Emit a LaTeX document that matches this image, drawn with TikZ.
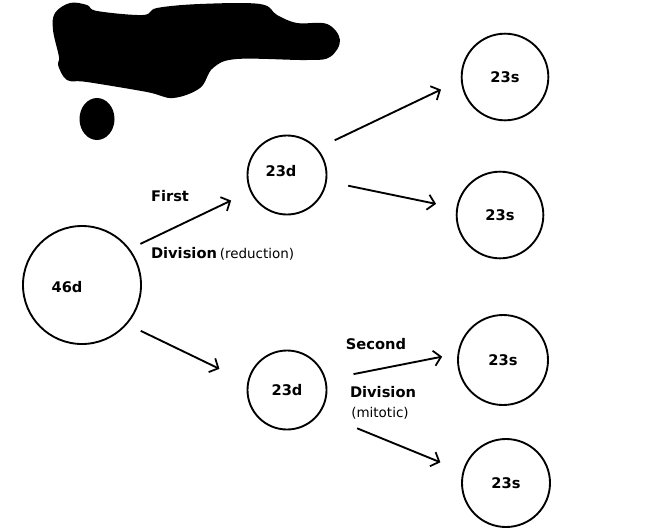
\documentclass[tikz,border=0pt]{standalone}
\usepackage{fontspec}
\setmainfont{DejaVu Sans}
\usetikzlibrary{arrows.meta}

\tikzset{
  cell/.style={draw, circle, line width=1.6pt, inner sep=0pt,
    font=\fontsize{12.5}{14}\selectfont\bfseries},
  lbl/.style={inner sep=0pt, font=\fontsize{12.5}{14}\selectfont\bfseries},
  note/.style={inner sep=0pt, font=\fontsize{11.5}{13}\selectfont}
}

\begin{document}
\begin{tikzpicture}[x=0.03cm,y=-0.03cm,>={Straight Barb[length=6pt,width=13pt,line width=1.5pt]}]
\useasboundingbox (0,0) rectangle (651,529);

% The blacked out patch in the corner
\fill plot [smooth cycle, tension=0.6] coordinates {
  (55,13) (70,3) (87,5) (97,11) (143,15) (157,8) (200,4) (260,4)
  (277,15) (297,23) (327,24) (340,40) (330,57) (307,60) (237,59)
  (213,68) (200,88) (173,98) (147,92) (87,82) (67,80) (58,65)
  (59,57) (53,30)};
\fill (97,119) ellipse [x radius=17.5, y radius=21];

% The parent cell and the two cells of the first division
\node [cell, minimum size=3.54cm, label={[lbl, xshift=-0.45cm, yshift=-0.05cm]center:46d}] (c46) at (82,285) {};
\node [cell, minimum size=2.37cm, label={[lbl, xshift=-0.18cm, yshift=0.12cm]center:23d}] (d1) at (287,175) {};
\node [cell, minimum size=2.37cm] (d2) at (287,390) {23d};

% The four cells of the second division
\foreach \n/\x/\y/\d in {s1/505/77/2.6cm, s2/500/215/2.6cm, s3/503/360/2.7cm, s4/506/483/2.64cm} {
  \node [cell, minimum size=\d] (\n) at (\x,\y) {23s};
}

% Division labels
\node [lbl] (first) at (170,196) {First};
\node [lbl] (div1) at (184,253) {Division};
\node [note, anchor=base west] (red) at ([xshift=2pt]div1.base east) {(reduction)};
\node [lbl] (second) at (376,344) {Second};
\node [lbl] (div2) at (383,392) {Division};
\node [note] (mit) at (380,413) {(mitotic)};

% Arrows between the cells
\foreach \a/\b/\s/\t in {
  c46.37/d1.204/0.35cm/0.63cm,
  c46.319/d2.169/0.45cm/0.93cm,
  d1.41/s1.184/0.57cm/0.66cm,
  d1.351/s2.171/0.65cm/0.62cm,
  d2.15/s3.172/0.84cm/0.47cm,
  d2.325/s4.165/1.2cm/0.72cm} {
  \draw [->, line width=1.6pt, shorten <=\s, shorten >=\t] (\a) -- (\b);
}

\end{tikzpicture}
\end{document}
